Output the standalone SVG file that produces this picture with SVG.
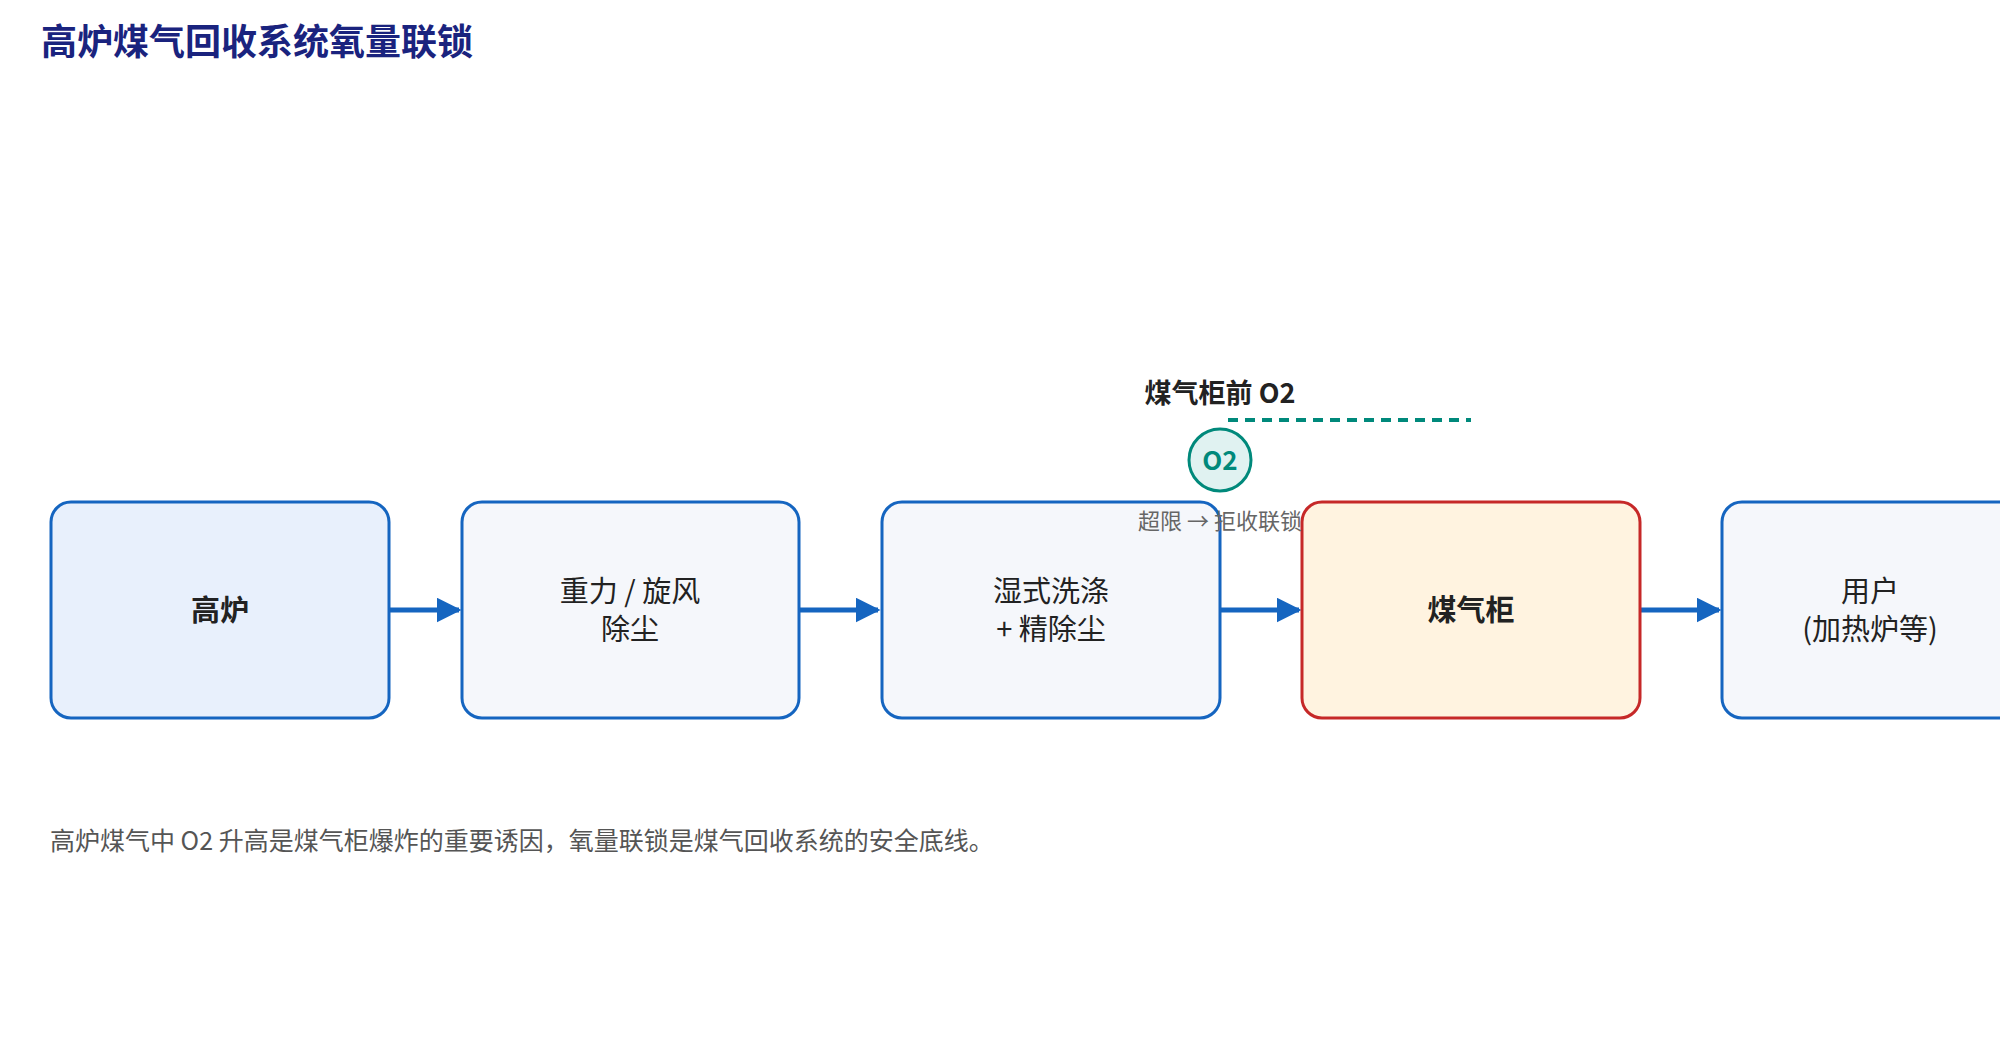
<svg xmlns="http://www.w3.org/2000/svg" width="2000" height="1040" viewBox="0 0 2000 1040">
<defs>
<style>
.t{font-family:"Noto Sans CJK SC","Noto Sans",sans-serif}
.box{stroke:#1565c0;stroke-width:3;fill:#f5f7fb}
.lbl{font-size:29px;fill:#222;text-anchor:middle}
.conn{stroke:#1565c0;stroke-width:5;fill:none;marker-end:url(#ah)}
</style>
<marker id="ah" viewBox="0 0 10 10" refX="9" refY="5" markerWidth="5" markerHeight="5" orient="auto" markerUnits="strokeWidth"><path d="M0,0L10,5L0,10z" fill="#1565c0"/></marker>
</defs>
<rect width="2000" height="1040" fill="#fff"/>
<text class="t" x="41" y="55" font-size="36" font-weight="bold" fill="#1a237e">高炉煤气回收系统氧量联锁</text>
<g id="connectors">
<line class="conn" x1="389" y1="610" x2="459" y2="610"/>
<line class="conn" x1="799" y1="610" x2="878" y2="610"/>
<line class="conn" x1="1220" y1="610" x2="1299" y2="610"/>
<line class="conn" x1="1640" y1="610" x2="1719" y2="610"/>
</g>
<g id="n1"><rect class="box" x="51" y="502" width="338" height="216" rx="20" fill="#e8f0fc" style="fill:#e8f0fc"/><text class="t lbl" x="220" y="621" font-weight="bold">高炉</text></g>
<g id="n2"><rect class="box" x="462" y="502" width="337" height="216" rx="20"/><text class="t lbl" x="630" y="602">重力 / 旋风</text><text class="t lbl" x="630" y="640">除尘</text></g>
<g id="n3"><rect class="box" x="882" y="502" width="338" height="216" rx="20"/><text class="t lbl" x="1051" y="602">湿式洗涤</text><text class="t lbl" x="1051" y="640">+ 精除尘</text></g>
<g id="n4"><rect class="box" x="1302" y="502" width="338" height="216" rx="20" style="fill:#fff3e0;stroke:#c62828"/><text class="t lbl" x="1471" y="621" font-weight="bold">煤气柜</text></g>
<g id="n5"><rect class="box" x="1722" y="502" width="338" height="216" rx="20"/><text class="t lbl" x="1870" y="602">用户</text><text class="t lbl" x="1870" y="640">(加热炉等)</text></g>
<g id="o2">
<text class="t" x="1220" y="403" font-size="27" font-weight="bold" fill="#222" text-anchor="middle">煤气柜前 O2</text>
<line x1="1228" y1="420" x2="1471" y2="420" stroke="#00897b" stroke-width="4" stroke-dasharray="10,7"/>
<circle cx="1220" cy="460" r="31" fill="#e0f2f1" stroke="#00897b" stroke-width="3"/>
<text class="t" x="1220" y="470" font-size="26" font-weight="bold" fill="#00897b" text-anchor="middle">O2</text>
<text class="t" x="1220" y="529" font-size="22" fill="#666" text-anchor="middle">超限 → 拒收联锁</text>
</g>
<text class="t" x="50" y="850" font-size="25" fill="#555">高炉煤气中 O2 升高是煤气柜爆炸的重要诱因，氧量联锁是煤气回收系统的安全底线。</text>
</svg>
